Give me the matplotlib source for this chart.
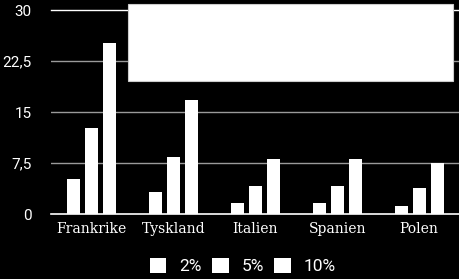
import numpy as np
import matplotlib.pyplot as plt
from matplotlib.patches import Rectangle

countries = ["Frankrike", "Tyskland", "Italien", "Spanien", "Polen"]
series_names = ["2%", "5%", "10%"]
v2 = [5.1, 3.3, 1.6, 1.6, 1.2]
v5 = [12.6, 8.4, 4.1, 4.1, 3.8]
v10 = [25.1, 16.8, 8.1, 8.1, 7.5]
yticks = [0, 7.5, 15, 22.5, 30]
ytick_labels = ["0", "7,5", "15", "22,5", "30"]

fig = plt.figure(figsize=(4.6, 2.79), dpi=100, facecolor="black")
ax = fig.add_axes([51 / 460, 1 - 214 / 279, 409 / 460, 204 / 279])
ax.set_facecolor("black")

x = np.arange(len(countries))
w = 0.16
step = 0.22
bars = []
for i, vals in enumerate([v2, v5, v10]):
    b = ax.bar(x + (i - 1) * step, vals, width=w, color="white", zorder=3)
    bars.append(b)

ax.set_xlim(-0.5, len(countries) - 0.5)
ax.set_ylim(0, 30)
ax.set_yticks(yticks)
ax.set_yticklabels(ytick_labels, family="Roboto", fontsize=11, color="white")
ax.set_xticks(x)
ax.set_xticklabels(countries, family="DejaVu Serif", fontsize=10, color="white")
ax.tick_params(length=0, pad=6)
ax.tick_params(axis="y", pad=14)
for s in ax.spines.values():
    s.set_visible(False)
for t in yticks[1:-1]:
    ax.axhline(t, color="#9a9a9a", lw=1, zorder=1)
ax.axhline(30, color="white", lw=1, zorder=1, clip_on=False)
ax.axhline(0, color="white", lw=1.2, zorder=4, clip_on=False)

leg = fig.legend(bars, series_names, loc="center", bbox_to_anchor=(243 / 460, 1 - 266 / 279),
                 ncol=3, frameon=False, handlelength=0.95, handleheight=0.95, handletextpad=0.75,
                 columnspacing=0.6, prop={"family": "Roboto", "size": 12.5})
for t in leg.get_texts():
    t.set_color("white")

fig.patches.append(Rectangle((128 / 460, 1 - 81 / 279), 325 / 460, 77 / 279,
                             transform=fig.transFigure, facecolor="white",
                             edgecolor="#cccccc", lw=0.8, zorder=10))

fig.savefig("out.png", dpi=100, facecolor="black")
